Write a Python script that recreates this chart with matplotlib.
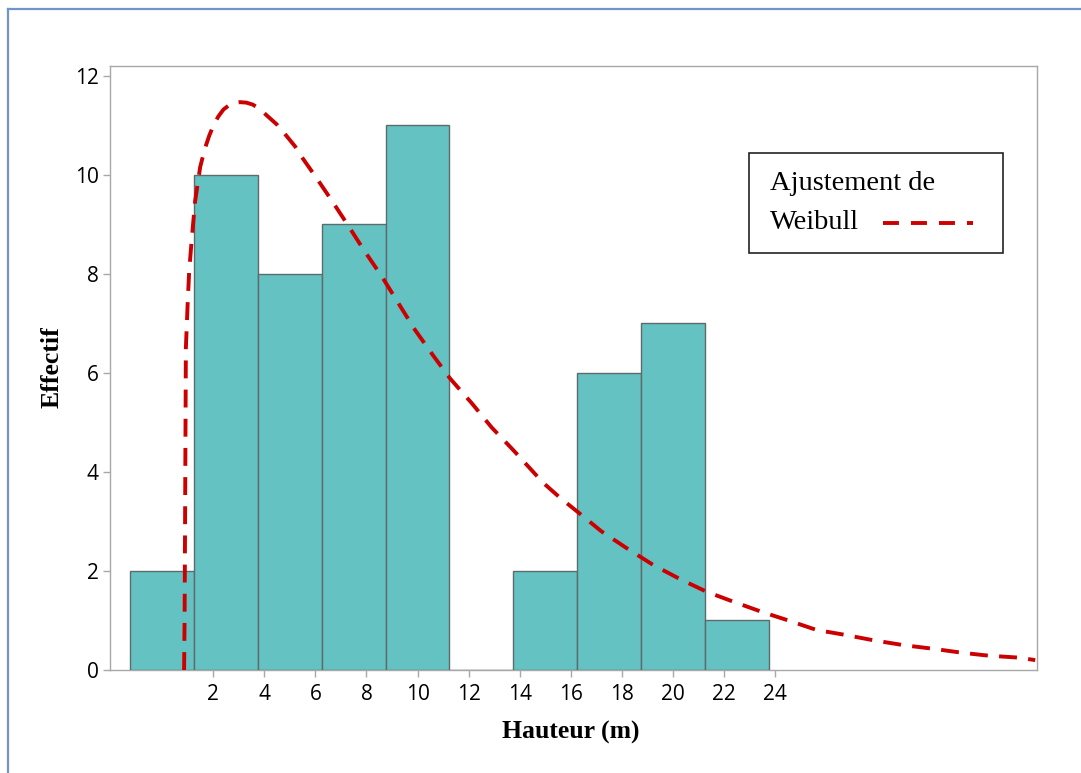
import matplotlib
matplotlib.use("Agg")
import matplotlib.pyplot as plt
from matplotlib.patches import Rectangle
from matplotlib.lines import Line2D

# ---- data ----
bin_centers = [0, 2.5, 5, 7.5, 10, 12.5, 15, 17.5, 20, 22.5]
counts = [2, 10, 8, 9, 11, 0, 2, 6, 7, 1]
bin_width = 2.5

weibull_x = [0.86, 0.88, 0.89, 0.91, 0.93, 1.0, 1.06, 1.16, 1.29, 1.49, 1.68,
             1.85, 2.01, 2.2, 2.4, 2.6, 2.8, 3.05, 3.3, 3.55, 3.8, 4.1, 4.49,
             4.85, 5.2, 5.47, 6.0, 6.58, 7.23, 7.9, 8.6, 9.2, 9.9, 10.6,
             11.27, 12.12, 12.9, 13.75, 14.53, 14.92, 15.6, 16.3, 17.2, 18.19,
             19.23, 20.3, 21.32, 22.36, 23.5, 24.64, 25.61, 26.73, 27.85,
             29.05, 30.17, 31.29, 32.34, 33.53, 34.18]
weibull_y = [0.0, 1.0, 2.0, 4.2, 6.5, 7.4, 8.06, 8.7, 9.46, 10.16, 10.54,
             10.8, 11.0, 11.18, 11.32, 11.4, 11.45, 11.47, 11.46, 11.42, 11.34,
             11.2, 11.02, 10.8, 10.58, 10.36, 9.97, 9.53, 9.02, 8.48, 7.95,
             7.45, 6.87, 6.36, 5.89, 5.39, 4.9, 4.44, 4.0, 3.78, 3.47, 3.18,
             2.8, 2.46, 2.12, 1.83, 1.58, 1.38, 1.17, 0.98, 0.81, 0.71, 0.6,
             0.5, 0.43, 0.35, 0.29, 0.25, 0.2]

x_ticks = [2, 4, 6, 8, 10, 12, 14, 16, 18, 20, 22, 24]
y_ticks = [0, 2, 4, 6, 8, 10, 12]

xlabel = "Hauteur (m)"
ylabel = "Effectif"
legend_lines = ["Ajustement de", "Weibull"]

# ---- figure ----
W, H = 1081, 773
fig = plt.figure(figsize=(W / 100, H / 100), dpi=100)
ax = fig.add_axes([110 / W, 1 - 670 / H, (1037 - 110) / W, (670 - 66) / H])

bar_color = "#64c2c2"
edge_color = "#5d6b6b"
red = "#cc0000"
spine_gray = "#a8a8a8"

ax.bar(bin_centers, counts, width=bin_width, color=bar_color,
       edgecolor=edge_color, linewidth=1.0, zorder=3)

ax.plot(weibull_x, weibull_y, color=red, linewidth=2.8,
        dashes=(4.6, 2.9), zorder=4)

ax.set_xlim(-2.04, 34.25)
ax.set_ylim(0, 12.2)
ax.set_xticks(x_ticks)
ax.set_yticks(y_ticks)

tick_font = dict(family="Open Sans", size=15)
ax.set_xticklabels([str(v) for v in x_ticks], **tick_font)
ax.set_yticklabels([str(v) for v in y_ticks], **tick_font)
ax.tick_params(axis="both", direction="out", length=5, width=1,
               color=spine_gray, labelcolor="black")
ax.tick_params(axis="x", pad=5)
ax.tick_params(axis="y", pad=3)

for s in ax.spines.values():
    s.set_color(spine_gray)
    s.set_linewidth(1.0)

label_font = dict(family="Liberation Serif", weight="bold", size=18.5)
fig.text(571 / W, 1 - 732 / H, xlabel, ha="center", va="center", **label_font)
fig.text(52 / W, 1 - 367 / H, ylabel, ha="center", va="center",
         rotation=90, **label_font)

# ---- legend box ----
fig.patches.append(Rectangle((749 / W, 1 - 253 / H), 254 / W, 100 / H,
                             transform=fig.transFigure, facecolor="white",
                             edgecolor="#222222", linewidth=1.2, zorder=5))
leg_font = dict(family="Liberation Serif", size=20.5)
fig.text(770 / W, 1 - 190 / H, legend_lines[0], ha="left", va="baseline",
         zorder=6, **leg_font)
fig.text(770 / W, 1 - 229 / H, legend_lines[1], ha="left", va="baseline",
         zorder=6, **leg_font)
fig.lines.append(Line2D([883 / W, 973 / W], [1 - 223 / H, 1 - 223 / H],
                        transform=fig.transFigure, color=red, linewidth=2.8,
                        dashes=(4.1, 3.1), zorder=6))

# ---- outer border (top and left) ----
border = "#6f95c9"
fig.lines.append(Line2D([8 / W, 1.0], [1 - 9 / H, 1 - 9 / H],
                        transform=fig.transFigure, color=border, linewidth=1.6))
fig.lines.append(Line2D([8 / W, 8 / W], [0.0, 1 - 9 / H],
                        transform=fig.transFigure, color=border, linewidth=1.6))

fig.savefig("out.png", dpi=100)
